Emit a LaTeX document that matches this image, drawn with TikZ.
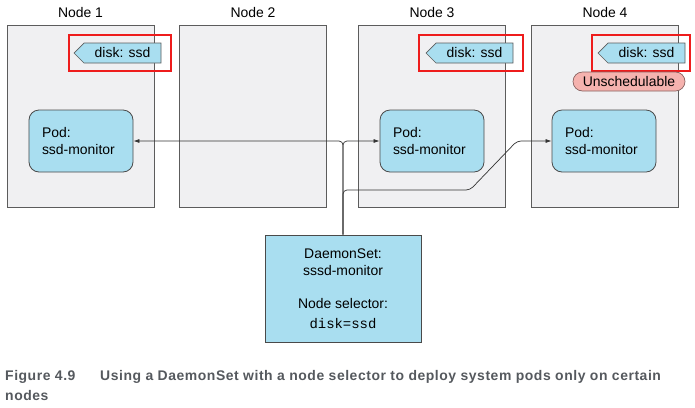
\documentclass[tikz,border=0pt]{standalone}
\usepackage{fontspec}
\setmainfont{Liberation Sans}
\setmonofont{Liberation Mono}
\newfontfamily\capfont[LetterSpace=3.9]{Liberation Sans}
\definecolor{nodegray}{HTML}{F0F0F2}
\definecolor{nodeedge}{HTML}{5C5C5C}
\definecolor{podblue}{HTML}{A9DEF0}
\definecolor{tagred}{HTML}{EE1C1C}
\definecolor{unschpink}{HTML}{F5B2AE}
\definecolor{captiongray}{HTML}{55595E}
\usepackage{tikz}
\usetikzlibrary{arrows.meta,positioning,calc}

\tikzset{
  disktag/.pic={
    \path[draw=nodeedge,fill=podblue,line width=0.7bp]
      (38.5,-10) -- (-38.5,-10) -- (-48.5,0) -- (-38.5,10) -- (38.5,10) -- cycle;
    \node[inner sep=0pt,font=\fontsize{14}{17}\selectfont] (-text) at (0,0) {disk: ssd};
  }
}

\begin{document}
\begin{tikzpicture}[x=1bp,y=-1bp,
  k8snode/.style={draw=nodeedge,fill=nodegray,line width=0.8bp,
                  minimum width=147bp,minimum height=182bp,inner sep=0pt},
  nodelabel/.style={font=\fontsize{14}{17}\selectfont,label distance=3bp},
  hilite/.style={draw=tagred,line width=2.6bp,minimum width=102bp,
                 minimum height=36bp,inner sep=0pt},
  unsched/.style={draw=unschpink!55!black,fill=unschpink,line width=0.7bp,
                  rounded corners=9.5bp,minimum width=112bp,minimum height=19bp,
                  inner sep=0pt,font=\fontsize{14}{17}\selectfont},
  pod/.style={draw=nodeedge!80!black,fill=podblue,line width=0.8bp,
              rounded corners=10bp,minimum width=104bp,minimum height=62bp,
              text width=78bp,inner sep=0pt,align=left,
              font=\fontsize{14}{17}\selectfont},
  daemon/.style={draw=nodeedge!80!black,fill=podblue,line width=0.8bp,
                 minimum width=156bp,minimum height=107bp,inner sep=0pt,
                 align=center,font=\fontsize{14}{17}\selectfont},
  link/.style={draw=black!80,line width=0.7bp,rounded corners=4bp},
  arrow/.style={link,-{Latex[length=6bp,width=4bp]}},
  caption/.style={anchor=north west,inner sep=0pt,align=left,text=captiongray,
                  font=\capfont\bfseries\fontsize{14}{19.5}\selectfont}
]
\path[fill=white] (0,0) rectangle (695,407);

\node[k8snode,label={[nodelabel]above:Node 1}] (n1) at (80.5,116) {};
\node[k8snode,label={[nodelabel]above:Node 2}] (n2) at (253,116) {};
\node[k8snode,label={[nodelabel]above:Node 3}] (n3) at (432,116) {};
\node[k8snode,label={[nodelabel]above:Node 4}] (n4) at (605,116) {};

\pic (tag1) at (122.5,53) {disktag};
\pic (tag3) at (474.5,53) {disktag};
\pic (tag4) at (646.5,53) {disktag};
\node[hilite] (hl1) at (120,53) {};
\node[hilite,minimum width=104bp] (hl3) at (471,53) {};
\node[hilite,minimum width=98bp] (hl4) at (641,53) {};
\node[unsched] (unsch) at (629,81.5) {Unschedulable};

\node[pod] (pod1) at (81,141) {Pod:\\ssd-monitor};
\node[pod] (pod3) at (432,141) {Pod:\\ssd-monitor};
\node[pod] (pod4) at (604,141) {Pod:\\ssd-monitor};

\node[daemon] (ds) at (343,288.5) {DaemonSet:\\sssd-monitor\\[16bp]Node selector:\\[3bp]\texttt{disk=ssd}};

\coordinate (bendA) at (470,190);
\coordinate (bendB) at (517,141);
\draw[arrow] (ds.north) |- (pod1.east);
\draw[arrow] (ds.north) |- (pod3.west);
\draw[arrow] (ds.north) |- (bendA) -- (bendB) -- (pod4.west);

\node[caption] (cap) at (5,370.5) {\makebox[95bp][l]{Figure 4.9}Using a DaemonSet with a node selector to deploy system pods only on certain\\nodes};
\end{tikzpicture}
\end{document}
